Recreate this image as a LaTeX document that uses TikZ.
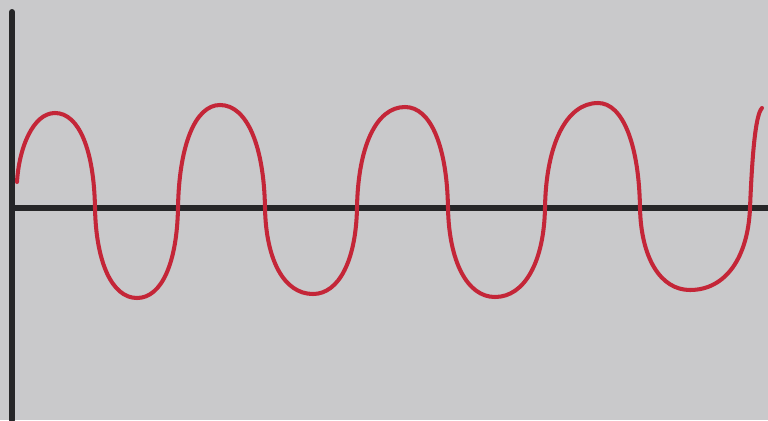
\documentclass[tikz,border=0pt]{standalone}
\usepackage{tikz}
\definecolor{paper}{RGB}{201,201,203}
\definecolor{inkred}{RGB}{196,38,56}
\definecolor{inkblack}{RGB}{38,38,40}
\tikzset{
  paperbg/.style={fill=paper, draw=none},
  axisline/.style={draw=inkblack, line width=3pt, line cap=round},
  wavestroke/.style={draw=inkred, line width=2.3pt, line cap=round, line join=round}
}
\begin{document}
\begin{tikzpicture}[x=0.02cm, y=-0.02cm]
      \path[paperbg] (0,0) rectangle (768,420);
      \useasboundingbox (0,0) rectangle (768,420);
      % axes
      \coordinate (ytop) at (12,12);
      \coordinate (ybot) at (12,420);
      \coordinate (xleft) at (12,208);
      \coordinate (xright) at (768,208);
      \draw[axisline, line width=3.4pt] (ytop) -- (ybot);
      \draw[axisline] (xleft) -- (xright);
      % wave
      \draw[wavestroke] (17,182)
        .. controls (19,148) and (33,113) .. (55,113)
        .. controls (79,113) and (94,150) .. (95,208)
        .. controls (96,262) and (112,298) .. (137,298)
        .. controls (162,298) and (177,262) .. (178,208)
        .. controls (179,146) and (195,105) .. (220,105)
        .. controls (247,105) and (264,146) .. (265,208)
        .. controls (266,260) and (284,294) .. (313,294)
        .. controls (339,294) and (356,260) .. (357,208)
        .. controls (358,147) and (376,107) .. (405,107)
        .. controls (431,107) and (447,147) .. (448,208)
        .. controls (449,261) and (467,297) .. (495,297)
        .. controls (525,297) and (544,261) .. (545,208)
        .. controls (546,145) and (566,103) .. (598,103)
        .. controls (623,103) and (639,145) .. (640,208)
        .. controls (641,257) and (660,290) .. (690,290)
        .. controls (726,290) and (748,257) .. (750,208)
        .. controls (752,160) and (755,115) .. (762,108);
\end{tikzpicture}
\end{document}
